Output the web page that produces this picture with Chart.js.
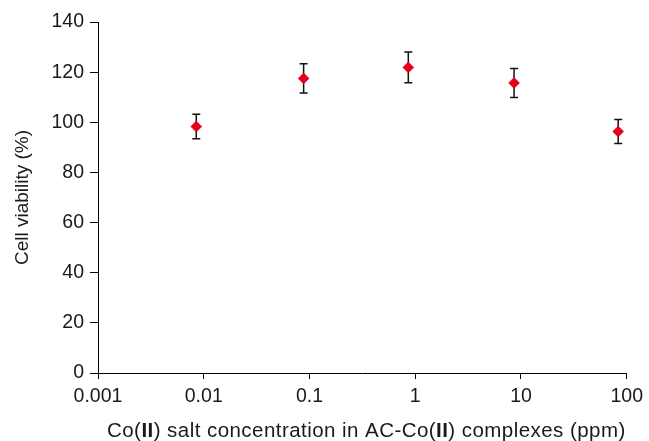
<html lang="en">
  <head>
    <title>Cell viability</title>
    <meta charset="utf-8">
    <script src="https://cdn.jsdelivr.net/npm/chart.js@4.4.1/dist/chart.umd.min.js"></script>
    <style>
      body { margin: 0; background: #fff; }
      #wrap { width: 649px; height: 441px; }
    </style>
  </head>
  <body>
  <div id="wrap"><canvas id="myChart" width="649" height="441"></canvas></div>
  <script>
    // concentration (ppm), viability (%) and error (+/-)
    var concentrations = [0.0085, 0.088, 0.86, 8.6, 83];
    var viability = [98.3, 117.5, 121.9, 115.7, 96.3];
    var errors = [4.9, 5.8, 6.1, 5.8, 4.8];
    var xTicks = [0.001, 0.01, 0.1, 1, 10, 100];
    var xTickLabels = ["0.001", "0.01", "0.1", "1", "10", "100"];

    var textColor = "#1a1a1a";
    var fontFamily = "'Liberation Sans', Arial, sans-serif";

    // draws vertical error bars with caps through the chart scales
    var errorBars = {
      id: "errorBars",
      beforeDatasetsDraw: function(chart) {
        var ctx = chart.ctx;
        var xs = chart.scales.x, ys = chart.scales.y;
        ctx.save();
        ctx.strokeStyle = "#111";
        ctx.lineWidth = 1.5;
        for (var i = 0; i < concentrations.length; i++) {
          var px = xs.getPixelForValue(concentrations[i]);
          var top = ys.getPixelForValue(viability[i] + errors[i]);
          var bot = ys.getPixelForValue(viability[i] - errors[i]);
          ctx.beginPath();
          ctx.moveTo(px, top); ctx.lineTo(px, bot);
          ctx.moveTo(px - 4, top); ctx.lineTo(px + 4, top);
          ctx.moveTo(px - 4, bot); ctx.lineTo(px + 4, bot);
          ctx.stroke();
        }
        ctx.restore();
      }
    };

    // x axis title with bold roman numerals
    var xTitle = {
      id: "xTitle",
      afterDraw: function(chart) {
        var parts = [["Co(", false], ["II", true], [") salt concentration in AC-Co(", false], ["II", true], [") complexes (ppm)", false]];
        var ctx = chart.ctx;
        var area = chart.chartArea;
        ctx.save();
        ctx.fillStyle = textColor;
        ctx.textBaseline = "middle";
        ctx.textAlign = "left";
        ctx.letterSpacing = "0.45px";
        var total = 0;
        parts.forEach(function(p) {
          ctx.font = (p[1] ? "bold " : "") + "20.5px " + fontFamily;
          total += ctx.measureText(p[0]).width;
        });
        var x = (area.left + area.right) / 2 + 4 - total / 2;
        parts.forEach(function(p) {
          ctx.font = (p[1] ? "bold " : "") + "20.5px " + fontFamily;
          ctx.fillText(p[0], x, 431);
          x += ctx.measureText(p[0]).width;
        });
        ctx.restore();
      }
    };

    var ctx = document.getElementById("myChart").getContext("2d");
    new Chart(ctx, {
      type: "scatter",
      data: {
        datasets: [{
          data: concentrations.map(function(c, i) { return { x: c, y: viability[i] }; }),
          pointStyle: "rectRot",
          pointRadius: 5.5,
          pointHoverRadius: 5.5,
          backgroundColor: "#e2001a",
          borderColor: "#e2001a",
          borderWidth: 0.5
        }]
      },
      options: {
        responsive: false,
        animation: false,
        events: [],
        layout: { padding: { top: 22, right: 19, left: 0, bottom: 0 } },
        plugins: {
          legend: { display: false },
          tooltip: { enabled: false }
        },
        scales: {
          x: {
            type: "logarithmic",
            min: 0.001,
            max: 100,
            afterBuildTicks: function(scale) {
              scale.ticks = xTicks.map(function(v) { return { value: v }; });
            },
            afterFit: function(scale) { scale.height = 68; },
            grid: { drawOnChartArea: false, drawTicks: true, tickLength: 6, color: "#000", lineWidth: 1 },
            border: { color: "#000", width: 1 },
            ticks: {
              color: textColor,
              padding: 6,
              maxRotation: 0,
              autoSkip: false,
              font: { family: fontFamily, size: 19.5 },
              callback: function(value, index) { return xTickLabels[index]; }
            }
          },
          y: {
            min: 0,
            max: 140,
            afterFit: function(scale) { scale.width = 98; },
            grid: { drawOnChartArea: false, drawTicks: true, tickLength: 8, color: "#000", lineWidth: 1 },
            border: { color: "#000", width: 1 },
            ticks: {
              stepSize: 20,
              color: textColor,
              padding: 6,
              font: { family: fontFamily, size: 19.5 }
            },
            title: {
              display: true,
              text: "Cell viability (%)",
              color: textColor,
              font: { family: fontFamily, size: 19 },
              padding: { top: 11, bottom: 0 }
            }
          }
        }
      },
      plugins: [errorBars, xTitle]
    });
  </script>
  </body>
</html>
